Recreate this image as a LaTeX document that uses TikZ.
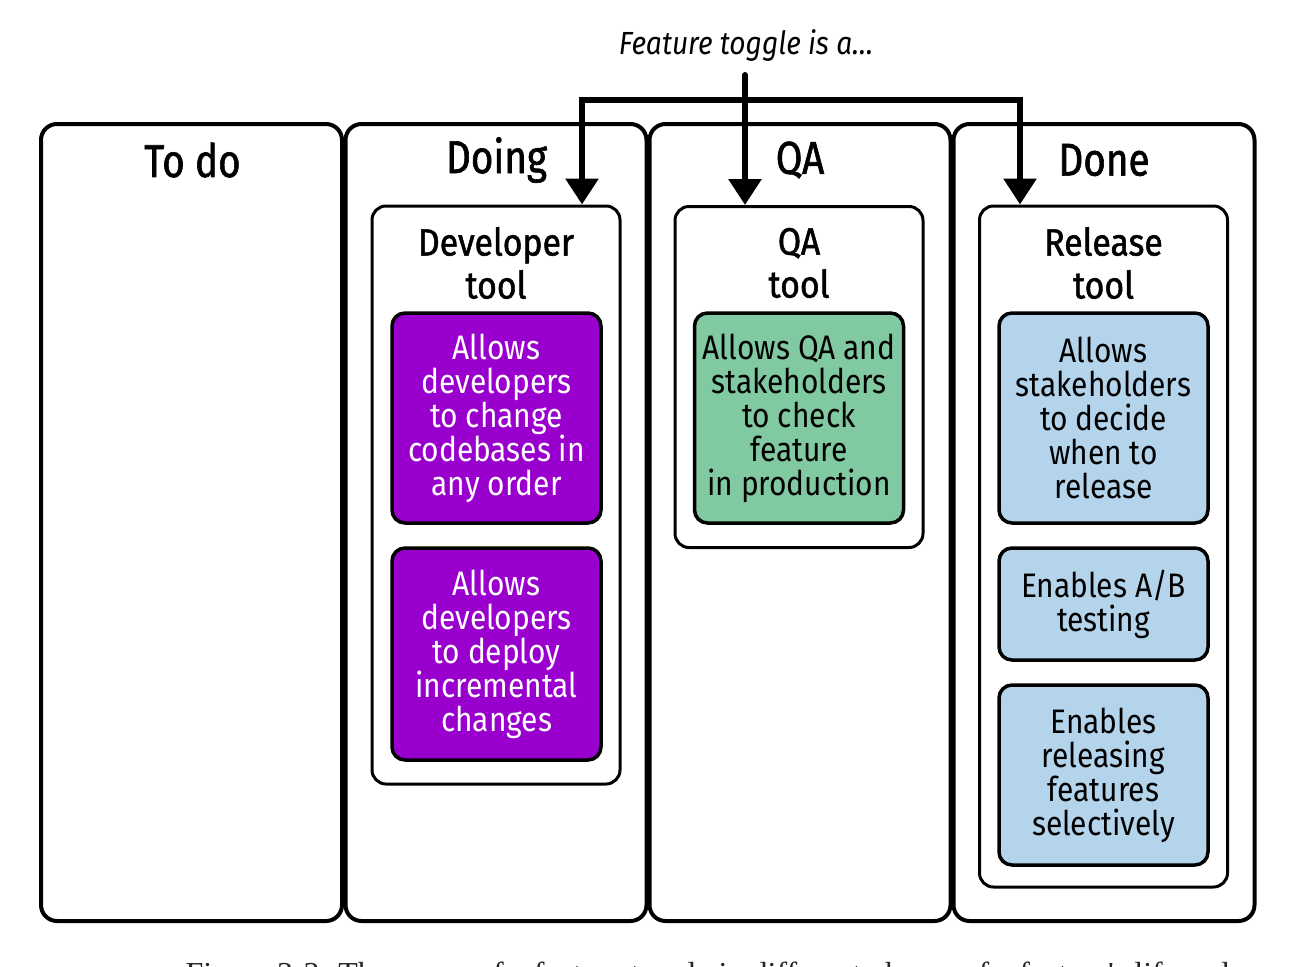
\documentclass[tikz,border=0pt]{standalone}
\usepackage{fontspec}
\setmainfont{Fira Sans}[FakeStretch=0.88]
\newfontfamily\hdfont{Fira Sans}[FakeStretch=0.84,FakeBold=1.3]
\newfontfamily\ttlfont{Fira Sans}[FakeStretch=0.89,FakeBold=1.3]
\newfontfamily\capfont{Liberation Serif}
\usetikzlibrary{arrows.meta}
\definecolor{purp}{HTML}{9A00CD}
\definecolor{grn}{HTML}{80C9A1}
\definecolor{blu}{HTML}{B4D4EC}
\begin{document}
\begin{tikzpicture}[x=1pt,y=-1pt,
  colbox/.style={draw, line width=4pt, rounded corners=16pt, inner sep=0pt, minimum width=301pt, minimum height=797pt},
  toolbox/.style={draw, line width=3pt, rounded corners=14pt, inner sep=0pt, minimum width=248pt},
  card/.style={draw, line width=3.5pt, rounded corners=13pt, inner sep=0pt, minimum width=209pt, align=center,
    font=\fontsize{34}{34}\selectfont},
  devcard/.style={card, fill=purp, text=white},
  qacard/.style={card, fill=grn},
  relcard/.style={card, fill=blu},
  header/.style={font=\hdfont\fontsize{46}{46}\selectfont, inner sep=0pt},
  tooltitle/.style={font=\ttlfont\fontsize{38}{43}\selectfont, align=center, inner sep=0pt},
  arr/.style={line width=6pt, -{Triangle[length=26pt,width=32pt]}},
]
\useasboundingbox (0,0) rectangle (1294,967);
\clip (0,0) rectangle (1294,967);

% columns
\node[colbox] (todo)  at (191.5,522.5) {};
\node[colbox] (doing) at (496,522.5) {};
\node[colbox] (qa)    at (800,522.5) {};
\node[colbox] (done)  at (1104,522.5) {};

\node[header] (htodo)  at (192.5,160) {To do};
\node[header] (hdoing) at (496.5,160) {Doing};
\node[header] (hqa)    at (800,160) {QA};
\node[header] (hdone)  at (1104,160) {Done};

% tool boxes
\node[toolbox, minimum height=578pt] (devtool) at (496,495) {};
\node[toolbox, minimum height=341pt] (qatool)  at (799,377) {};
\node[toolbox, minimum height=681pt] (reltool) at (1103.5,546.5) {};

\node[tooltitle] (tdev) at (496,263) {Developer\\tool};
\node[tooltitle] (tqa)  at (799,263) {QA\\tool};
\node[tooltitle] (trel) at (1103.5,263) {Release\\tool};

% cards
\node[devcard, minimum height=210pt] (d1) at (496.5,418) {Allows\\developers\\to change\\codebases in\\any order};
\node[devcard, minimum height=212pt] (d2) at (496.5,654) {Allows\\developers\\to deploy\\incremental\\changes};
\node[qacard, minimum height=210pt] (q1) at (799,418) {Allows QA and\\stakeholders\\to check\\feature\\in production};
\node[relcard, minimum height=210pt] (r1) at (1103.5,418) {Allows\\stakeholders\\to decide\\when to\\release};
\node[relcard, minimum height=112pt] (r2) at (1103.5,604) {Enables A/B\\testing};
\node[relcard, minimum height=180pt] (r3) at (1103.5,775) {Enables\\releasing\\features\\selectively};

% feature toggle arrows
\node[font=\itshape\fontsize{32}{32}\selectfont, inner sep=0pt] (ft) at (746,45) {Feature toggle is a\dots};
\coordinate (src) at (745,75);
\coordinate (jl) at (582,100);
\coordinate (jr) at (1020,100);
\draw[arr, line cap=round] (src) -- (src |- qatool.north);
\draw[line width=6pt, {Triangle[length=26pt,width=32pt]}-{Triangle[length=26pt,width=32pt]}]
  (jl |- devtool.north) -- (jl) -- (jr) -- (jr |- reltool.north);

% caption (cut off at the bottom edge, as in the reference)
\node[font=\capfont\fontsize{32}{32}\selectfont, anchor=base, inner sep=0pt, text=black!85] (cap) at (715,984)
  {Figure 3-3. The usage of a feature toggle in different phases of a feature's lifecycle};
\end{tikzpicture}
\end{document}
